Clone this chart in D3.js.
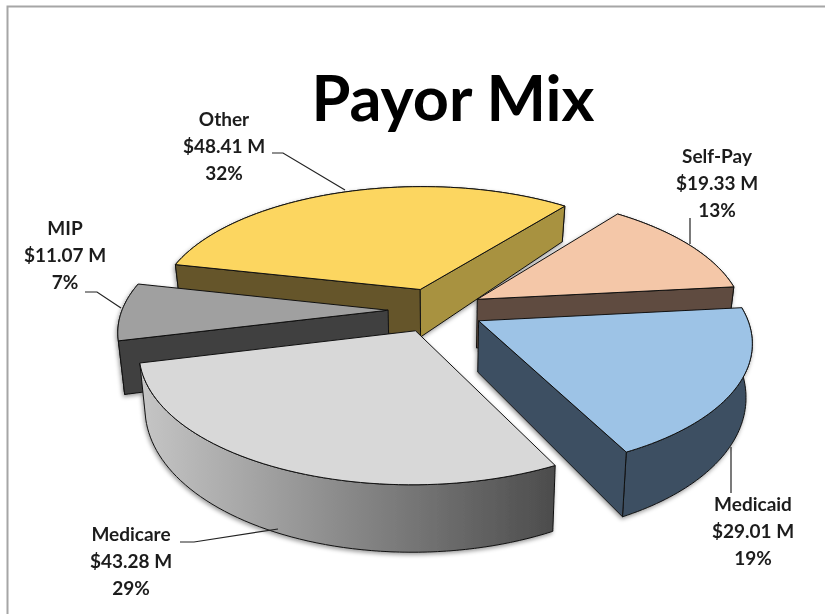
<!DOCTYPE html>
<html>
<head>
<meta charset="utf-8">
<script src="https://cdnjs.cloudflare.com/ajax/libs/d3/7.8.5/d3.min.js"></script>
<style>
body { margin:0; background:#fff; }
text { font-family:Lato, "Open Sans", sans-serif; font-weight:700; fill:#1c1c1c; text-anchor:middle; }
</style>
</head>
<body>
<div id="chart"></div>
<script>
var categories = ["Other","Self-Pay","Medicaid","Medicare","MIP"];
var amounts = [48.41,19.33,29.01,43.28,11.07];
var percents = ["32%","13%","19%","29%","7%"];

var topColors = ["#fcd661","#f4c7a8","#9dc3e6","#d8d8d8","#a0a0a0"];
var startFaceColors = ["#65552a","#5f4b3f","#3e5062","#777777","#404040"];
var endFaceColors = ["#a8923f","#5f4b3f","#3e5062","#777777","#404040"];
var rimColors = ["#a8923f","#5f4b3f","#3e5062","url(#rimGrad)","#404040"];
var drawOrder = [0,1,4,2,3];

var w=825, h=614;
// fitted camera for the tilted pie
var cx=436, cy=310, radius=266, tilt=124, persp=0.15, depth=50, depthPersp=0.3, taper=0.02, explode=0.18;

var svg = d3.select("#chart").append("svg").attr("width",w).attr("height",h);
var defs = svg.append("defs");

var grad = defs.append("linearGradient").attr("id","rimGrad")
    .attr("gradientUnits","userSpaceOnUse")
    .attr("x1",139).attr("x2",555).attr("y1",0).attr("y2",0);
grad.append("stop").attr("offset","0").attr("stop-color","#c6c6c6");
grad.append("stop").attr("offset","1").attr("stop-color","#4c4c4c");

var shadow = defs.append("filter").attr("id","soft")
    .attr("x","-10%").attr("y","-10%").attr("width","120%").attr("height","125%");
shadow.append("feGaussianBlur").attr("in","SourceGraphic").attr("stdDeviation",0.4).attr("result","sharp");
shadow.append("feDropShadow").attr("in","sharp").attr("dx",-1).attr("dy",2).attr("stdDeviation",2)
    .attr("flood-color","#000").attr("flood-opacity",0.4);

var textSoft = defs.append("filter").attr("id","textSoft");
textSoft.append("feGaussianBlur").attr("stdDeviation",0.4);

// frame, the original is cut off on the right and at the bottom
svg.append("path").attr("d","M7.5,614V6.5H825").attr("fill","none").attr("stroke","#a6a6a6").attr("stroke-width",2);

var pie = d3.pie().sort(null)
    .startAngle(-77.4*Math.PI/180)
    .endAngle((360-77.4)*Math.PI/180);
var arcs = pie(amounts);

function project(u,v,z){
  var s = 1/(1-persp*v);
  var t = 1-taper*z/depth;
  return [cx+radius*u*s*t, cy+tilt*v*s+z*(1+depthPersp*v)];
}
function ringPoint(d,a,z){
  var mid=(d.startAngle+d.endAngle)/2;
  return project(explode*Math.sin(mid)+Math.sin(a), -explode*Math.cos(mid)-Math.cos(a), z);
}
function apex(d,z){
  var mid=(d.startAngle+d.endAngle)/2;
  return project(explode*Math.sin(mid), -explode*Math.cos(mid), z);
}
function arcPoints(d,z){
  var n=60, pts=[];
  for(var i=0;i<=n;i++){
    pts.push(ringPoint(d,d.startAngle+(d.endAngle-d.startAngle)*i/n,z));
  }
  return pts;
}
var line = d3.line();

var slices = svg.append("g").attr("filter","url(#soft)");
drawOrder.forEach(function(i){
  var d=arcs[i];
  var g=slices.append("g").attr("class","slice");
  function face(pts,fill){
    g.append("path").attr("d",line(pts)+"Z").attr("fill",fill)
      .attr("stroke","#111").attr("stroke-width",1).attr("stroke-linejoin","round");
  }
  var a0=apex(d,0), s0=ringPoint(d,d.startAngle,0), e0=ringPoint(d,d.endAngle,0);
  face(arcPoints(d,0).concat(arcPoints(d,depth).reverse()),rimColors[i]);
  // a cut face only shows when its edge leans the right way on screen
  if(s0[0]<a0[0]){ face([a0,s0,ringPoint(d,d.startAngle,depth),apex(d,depth)],startFaceColors[i]); }
  if(e0[0]>a0[0]){ face([a0,e0,ringPoint(d,d.endAngle,depth),apex(d,depth)],endFaceColors[i]); }
  face([a0].concat(arcPoints(d,0)),topColors[i]);
});

// title
svg.append("text").attr("x",453).attr("y",121).attr("font-size",63).style("fill","#000").attr("filter","url(#textSoft)").text("Payor Mix");

// data labels, placed by hand like the original
var labelPos = [[224,126],[717,163],[753,511],[131,541],[65,235]];
var leaders = [
  [[272,153],[283,153],[345,190]],
  [[690,218],[690,244]],
  [[731,447],[731,493]],
  [[180,542],[194,542],[278,529]],
  [[85,292],[97,292],[121,308]]
];
var lineGap=27;
categories.forEach(function(c,i){
  var lines=[c,"$"+amounts[i].toFixed(2)+" M",percents[i]];
  var t=svg.append("text").attr("font-size",19).attr("filter","url(#textSoft)");
  lines.forEach(function(l,j){
    t.append("tspan").attr("x",labelPos[i][0]).attr("y",labelPos[i][1]+j*lineGap).text(l);
  });
  svg.append("path").attr("d",line(leaders[i])).attr("fill","none").attr("stroke","#222").attr("stroke-width",1.2);
});
</script>
</body>
</html>
